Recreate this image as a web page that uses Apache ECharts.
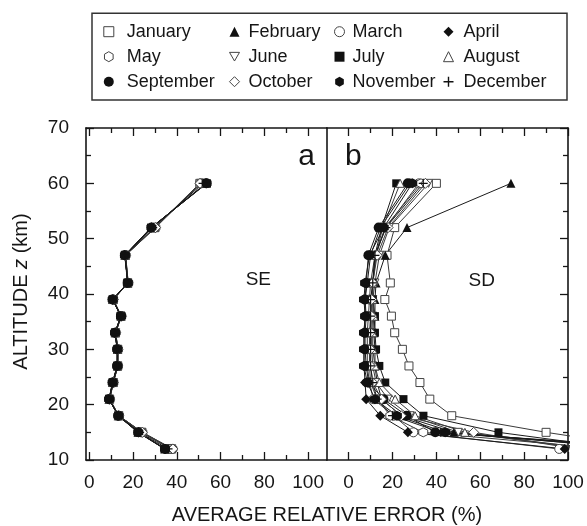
<!DOCTYPE html>
<html><head><meta charset="utf-8">
<script src="https://cdn.jsdelivr.net/npm/echarts@6/dist/echarts.min.js"></script>
<style>html,body{margin:0;padding:0;background:#fff}#c{width:587px;height:526px}</style>
</head><body><div id="c"></div>
<script>
// ---------- DATA ----------
const altitudes = [12, 15, 18, 21, 24, 27, 30, 33, 36, 39, 42, 47, 52, 60];
const months = ['January','February','March','April','May','June','July','August','September','October','November','December'];
const xTickLabels = [0, 20, 40, 60, 80, 100];
const xMinorTicks = [10, 30, 50, 70, 90];

// Panel a: SE
const seJanuary   = [37.5, 24.0, 13.5, 9.3, 11.0, 13.0, 13.0, 12.0, 14.5, 11.0, 17.5, 16.5, 30.0, 50.5];
const seFebruary  = [34.5, 22.3, 13.2, 9.0, 10.7, 12.8, 12.8, 11.8, 14.5, 10.7, 17.6, 16.3, 28.3, 53.5];
const seMarch     = [37.0, 23.8, 13.4, 9.2, 10.9, 13.0, 13.0, 12.0, 14.6, 10.9, 17.7, 16.5, 29.8, 51.0];
const seApril     = [34.6, 22.4, 13.3, 9.1, 10.7, 12.8, 12.8, 11.7, 14.5, 10.7, 17.6, 16.3, 28.5, 53.2];
const seMay       = [38.0, 24.2, 13.5, 9.3, 11.0, 13.0, 13.1, 12.0, 14.6, 10.9, 17.8, 16.6, 30.2, 50.8];
const seJune      = [37.8, 24.0, 13.4, 9.2, 10.9, 13.0, 13.0, 12.0, 14.5, 11.0, 17.7, 16.5, 30.0, 51.2];
const seJuly      = [34.4, 22.2, 13.2, 9.0, 10.6, 12.7, 12.8, 11.7, 14.4, 10.6, 17.5, 16.2, 28.2, 53.8];
const seAugust    = [37.6, 23.9, 13.4, 9.2, 10.9, 13.0, 13.0, 12.0, 14.5, 10.9, 17.7, 16.5, 29.9, 51.0];
const seSeptember = [34.8, 22.5, 13.3, 9.1, 10.7, 12.8, 12.8, 11.8, 14.5, 10.7, 17.6, 16.3, 28.5, 53.5];
const seOctober   = [38.2, 24.3, 13.5, 9.3, 11.0, 13.1, 13.1, 12.1, 14.7, 11.0, 17.8, 16.6, 30.3, 50.6];
const seNovember  = [34.6, 22.4, 13.3, 9.1, 10.7, 12.8, 12.8, 11.8, 14.5, 10.7, 17.6, 16.3, 28.4, 53.6];
const seDecember  = [36.0, 23.0, 13.3, 9.1, 10.8, 12.9, 12.9, 11.9, 14.5, 10.8, 17.6, 16.4, 29.0, 52.0];

// Panel b: SD
const sdJanuary   = [140, 90.0, 47.0, 37.0, 32.5, 27.5, 24.5, 21.0, 19.5, 16.5, 19.0, 17.5, 21.0, 40.0];
const sdFebruary  = [130, 48.0, 24.0, 15.0, 13.0, 12.0, 12.0, 11.5, 12.0, 12.0, 12.5, 16.7, 26.6, 74.0];
const sdMarch     = [96,  29.5, 20.5, 11.3, 9.5, 8.5, 8.5, 8.5, 9.0, 9.5, 10.0, 12.0, 17.0, 32.0];
const sdApril     = [98.5, 27.0, 14.4, 8.0, 7.5, 7.0, 7.0, 7.0, 7.5, 7.5, 8.5, 10.0, 14.5, 28.0];
const sdMay       = [118, 34.0, 19.0, 13.0, 10.0, 9.5, 9.5, 9.5, 10.0, 10.5, 11.0, 12.5, 16.5, 33.0];
const sdJune      = [112, 50.0, 28.0, 18.0, 12.5, 11.0, 10.5, 10.5, 11.0, 11.0, 12.0, 14.0, 18.5, 36.4];
const sdJuly      = [125, 68.3, 34.1, 25.0, 16.7, 14.0, 12.5, 12.0, 12.0, 11.0, 11.0, 12.0, 15.0, 21.7];
const sdAugust    = [108, 53.0, 30.3, 21.2, 14.0, 12.0, 11.0, 11.0, 11.5, 11.0, 11.0, 12.5, 15.5, 23.5];
const sdSeptember = [150, 39.5, 26.5, 15.9, 9.1, 8.0, 7.5, 7.5, 8.0, 7.5, 8.0, 9.0, 13.7, 27.0];
const sdOctober   = [104, 57.0, 24.0, 15.0, 11.0, 10.0, 10.0, 10.0, 10.5, 10.5, 11.0, 13.0, 18.0, 35.0];
const sdNovember  = [140, 44.0, 22.0, 12.0, 8.5, 7.0, 7.0, 7.0, 7.5, 7.0, 7.5, 9.5, 16.0, 29.0];
const sdDecember  = [135, 42.0, 20.0, 13.0, 11.0, 10.0, 10.0, 10.0, 10.0, 10.0, 11.0, 12.0, 17.0, 34.0];

const seSets = [seJanuary, seFebruary, seMarch, seApril, seMay, seJune, seJuly, seAugust, seSeptember, seOctober, seNovember, seDecember];
const sdSets = [sdJanuary, sdFebruary, sdMarch, sdApril, sdMay, sdJune, sdJuly, sdAugust, sdSeptember, sdOctober, sdNovember, sdDecember];

// ---------- STYLE ----------
const FONT = "'Liberation Sans', Arial, Helvetica, sans-serif";
const INK = '#161616';
const HEX = 'path://M0.866,0 L1.732,0.5 L1.732,1.5 L0.866,2 L0,1.5 L0,0.5 Z';
const TRI_DOWN = 'path://M0,0 L2,0 L1,1.732 Z';
const PLUS = 'path://M0.43,0 L0.57,0 L0.57,0.43 L1,0.43 L1,0.57 L0.57,0.57 L0.57,1 L0.43,1 L0.43,0.57 L0,0.57 L0,0.43 L0.43,0.43 Z';
const markerStyles = [
  {symbol:'rect', size:8, lsize:8, hollow:true},
  {symbol:'triangle', size:9, lsize:9, hollow:false},
  {symbol:'circle', size:9, lsize:8, hollow:true},
  {symbol:'diamond', size:10, lsize:10, hollow:false},
  {symbol:HEX, size:9, lsize:9, hollow:true},
  {symbol:TRI_DOWN, size:8, lsize:8, hollow:true},
  {symbol:'rect', size:8, lsize:8, hollow:false},
  {symbol:'triangle', size:8, lsize:7, hollow:true},
  {symbol:'circle', size:10, lsize:9, hollow:false},
  {symbol:'diamond', size:10, lsize:10, hollow:true},
  {symbol:HEX, size:10, lsize:9, hollow:false},
  {symbol:PLUS, size:9, lsize:9, hollow:false}
];
function itemStyleFor(m) {
  return m.hollow ? {color:'#ffffff', borderColor:'#444', borderWidth:1}
                  : {color:'#111111', borderColor:'#111111', borderWidth:0};
}

function makeSeries(sets, xi, yi) {
  return sets.map((vals, i) => ({
    name: months[i], type:'line', xAxisIndex:xi, yAxisIndex:yi,
    data: vals.map((v, k) => [v, altitudes[k]]),
    symbol: markerStyles[i].symbol, symbolSize: markerStyles[i].size,
    itemStyle: itemStyleFor(markerStyles[i]),
    lineStyle: {color: markerStyles[i].hollow ? '#3a3a3a' : '#1a1a1a', width: 1},
    clip: true, emphasis: {disabled: true}, silent: true, animation:false
  }));
}

const lineStyle = {color: INK, width: 1.6};
const tickStyle = {color: INK, width: 1.3};
function xAxesFor(grid, min, max) {
  const base = {gridIndex:grid, type:'value', min, max, splitLine:{show:false},
    axisLine:{show:false, onZero:false}, axisLabel:{show:false}, axisTick:{show:false}};
  return [
    Object.assign({}, base, {position:'bottom',
      axisLine:{show:true, onZero:false, lineStyle},
      axisTick:{show:true, inside:true, length:8, customValues:xTickLabels, lineStyle:tickStyle},
      axisLabel:{show:true, customValues:xTickLabels, margin:13, fontSize:19, fontFamily:FONT, color:INK}}),
    Object.assign({}, base, {position:'bottom',
      axisTick:{show:true, inside:true, length:5, customValues:xMinorTicks, lineStyle:tickStyle}}),
    Object.assign({}, base, {position:'top',
      axisLine:{show:true, onZero:false, lineStyle},
      axisTick:{show:true, inside:true, length:8, customValues:xTickLabels, lineStyle:tickStyle}}),
    Object.assign({}, base, {position:'top',
      axisTick:{show:true, inside:true, length:5, customValues:xMinorTicks, lineStyle:tickStyle}})
  ];
}

const yBase = {type:'value', min:10, max:70, interval:10, splitLine:{show:false}};
const yAxes = [
  Object.assign({}, yBase, {gridIndex:0, position:'left',
    axisLine:{show:true, onZero:false, lineStyle},
    axisTick:{show:true, inside:true, length:8, lineStyle:tickStyle},
    minorTick:{show:true, splitNumber:2, length:5, lineStyle:tickStyle},
    axisLabel:{show:true, margin:17, fontSize:19, fontFamily:FONT, color:INK}}),
  Object.assign({}, yBase, {gridIndex:0, position:'right',
    axisLine:{show:true, onZero:false, lineStyle}, axisTick:{show:false}, axisLabel:{show:false}}),
  Object.assign({}, yBase, {gridIndex:1, position:'left',
    axisLine:{show:false, onZero:false}, axisTick:{show:false}, axisLabel:{show:false}}),
  Object.assign({}, yBase, {gridIndex:1, position:'right',
    axisLine:{show:true, onZero:false, lineStyle},
    axisTick:{show:true, inside:true, length:8, lineStyle:tickStyle},
    minorTick:{show:true, splitNumber:2, length:5, lineStyle:tickStyle},
    axisLabel:{show:false}})
];

// one vertical legend per column; icon box is square, text pushed right by padding
function legendCol(names, iconCenterX, textGap) {
  return {
    orient:'vertical', left:iconCenterX - 5, top:21.7, padding:0, itemGap:5,
    itemWidth:10, itemHeight:10, selectedMode:false, symbolKeepAspect:true,
    textStyle:{fontSize:18, lineHeight:20, fontFamily:FONT, color:INK, padding:[0,0,0,textGap]},
    data: names.map(n => {
      const m = markerStyles[months.indexOf(n)];
      return {name:n, icon:m.symbol, itemStyle:itemStyleFor(m)};
    })
  };
}

const option = {
  animation:false,
  backgroundColor:'#ffffff',
  grid:[
    {left:86, top:128, width:240.7, height:332},
    {left:326.7, top:128, width:241.3, height:332}
  ],
  xAxis: xAxesFor(0, -1.5, 108.5).concat(xAxesFor(1, -10, 100)),
  yAxis: yAxes,
  legend:[
    legendCol(['January','May','September'], 108.3, 8),
    legendCol(['February','June','October'], 234, 4),
    legendCol(['March','July','November'], 339, 3),
    legendCol(['April','August','December'], 448, 5)
  ],
  graphic:[
    {type:'rect', shape:{x:92, y:13.3, width:475, height:86.7}, style:{fill:'none', stroke:'#333', lineWidth:1.5}, silent:true},
    {type:'text', x:315, y:156.5, style:{text:'a', fontSize:30, fontFamily:FONT, fill:INK, align:'right', verticalAlign:'middle'}},
    {type:'text', x:345, y:156.5, style:{text:'b', fontSize:30, fontFamily:FONT, fill:INK, align:'left', verticalAlign:'middle'}},
    {type:'text', x:258.3, y:280, style:{text:'SE', fontSize:19, fontFamily:FONT, fill:INK, align:'center', verticalAlign:'middle'}},
    {type:'text', x:481.7, y:281, style:{text:'SD', fontSize:19, fontFamily:FONT, fill:INK, align:'center', verticalAlign:'middle'}},
    {type:'text', x:327, y:515.8, style:{text:'AVERAGE RELATIVE ERROR (%)', fontSize:20, fontFamily:FONT, fill:INK, align:'center', verticalAlign:'middle'}},
    {type:'text', x:21.7, y:291.5, rotation:Math.PI/2,
      style:{text:'ALTITUDE {i|z} (km)', fontSize:20, fontFamily:FONT, fill:INK, align:'center', verticalAlign:'middle',
        rich:{i:{fontStyle:'italic', fontSize:20, fontFamily:FONT, fill:INK}}}}
  ],
  series: makeSeries(seSets, 0, 0).concat(makeSeries(sdSets, 4, 2))
};

const chart = echarts.init(document.getElementById('c'), null, {renderer:'canvas'});
chart.setOption(option);
</script>
</body></html>
